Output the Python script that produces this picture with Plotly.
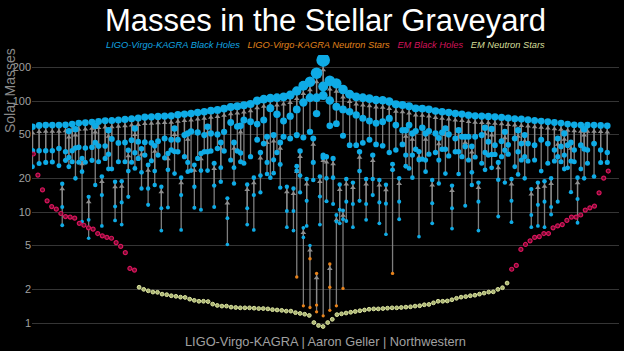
import numpy as np
import plotly.graph_objects as go

# ---------------- LIGO-Virgo-KAGRA mergers ----------------
# top row: slot (column index), remnant mass, primary, secondary
top_slot = list(range(0, 176, 2))
top_final = [58.6, 60.3, 60.7, 60.7, 60.7, 61.1, 62.0, 63.3, 63.7, 64.6, 65.5, 66.4, 66.9, 67.3, 68.3, 69.2, 70.2, 71.7,
             72.1, 72.6, 73.1, 73.6, 75.2, 76.2, 77.3, 78.9, 80.0, 81.8, 83.0, 85.4, 88.3, 89.6, 91.5, 94.0, 100.8, 104,
             106, 107, 109, 113, 123, 137, 149, 178, 234, 152, 144, 127, 115, 109, 107, 105, 102,
             101.4, 99.0, 93.3, 92.0, 89.6, 85.9, 85.4, 84.2, 81.2, 80.0, 78.9, 77.3, 76.2, 74.6, 73.6, 73.1, 72.6, 72.1,
             71.1, 70.2, 69.2, 68.7, 67.8, 66.9, 65.9, 65.0, 64.1, 63.3, 62.0, 61.1, 60.7, 60.7, 60.7, 60.3, 59.8]
top_m1 = [35.6, 35.6, 35.6, 35.6, 37.4, 34.9, 35.6, 38.3, 37.8, 38.3, 39.3, 39.3, 45.4, 41.9, 42.3, 44.3, 43.0, 42.5,
          42.0, 43.4, 46.0, 44.7, 44.7, 49.3, 53.2, 52.1, 49.3, 51.1, 50.0, 52.8, 64.0, 59.0, 67.6, 65.0, 62.0, 67.4,
          86.0, 76.0, 66.0, 73.0, 84.0, 97.0, 107, 107, 135, 101, 89.0, 84.0, 80.0, 75.0, 70.0, 66.0, 63.0,
          65.0, 69.7, 60.7, 54.6, 60.7, 53.6, 57.4, 53.6, 51.1, 52.0, 50.0, 46.0, 47.6, 47.6, 47.6, 49.3, 43.0, 40.0,
          43.4, 40.3, 46.0, 41.4, 41.4, 40.0, 44.7, 41.4, 36.2, 39.0, 40.0, 36.2, 40.0, 36.2, 41.4, 36.2, 34.4]
top_m2 = [25.6, 27.3, 28.0, 28.2, 26.1, 29.2, 28.4, 28.1, 28.1, 29.2, 28.4, 30.4, 24.4, 28.4, 28.4, 28.1, 30.4, 32.6,
          29.0, 32.6, 30.8, 36.2, 34.9, 31.5, 23.6, 30.4, 34.9, 35.4, 37.4, 35.4, 29.4, 35.4, 27.5, 31.5, 44.7, 41.4,
          20.4, 34.4, 47.6, 46.0, 49.3, 46.8, 52.8, 77.0, 112, 59.8, 62.5, 48.6, 40.0, 40.0, 42.0, 44.7, 40.6,
          39.5, 34.4, 36.2, 40.6, 24.7, 36.7, 30.0, 33.2, 34.4, 36.7, 32.0, 34.9, 31.5, 29.4, 31.3, 27.5, 32.6, 33.0,
          31.5, 33.2, 25.6, 29.4, 28.8, 29.4, 23.4, 27.5, 28.8, 28.4, 25.0, 28.4, 24.4, 27.5, 20.9, 27.9, 28.0]

# interleaved (lower) mergers
low_slot = [9, 11, 13, 15, 17, 19, 21, 23, 25, 27, 29, 31, 33, 35, 37, 39, 41, 43, 45, 47,
            49, 51, 53, 55, 57, 59, 61, 63, 65, 67, 69, 71, 73, 75, 77, 79, 81, 83, 85, 87,
            89, 91, 93, 95, 97, 99, 101, 103, 105, 107, 111, 113, 115, 117, 119, 121, 123, 125, 127, 129,
            131, 133, 135, 137, 139, 141, 143, 145, 147, 149, 151, 153, 155, 157, 159, 161, 163, 165, 167]
low_final = [18.0, 53.6, 55.8, 30.4, 13.7, 59.8, 20.9, 54.6, 18.7, 18.9,
             36.0, 56.6, 37.2, 26.5, 39.5, 16.9, 33.7, 56.6, 20.4, 51.0,
             26.5, 33.7, 58.6, 27.5, 42.3, 13.3, 42.3, 59.8, 17.7, 20.4,
             34.4, 47.6, 49.3, 42.3, 16.9, 16.3, 35.4, 19.8, 46.0, 20.9,
             31.5, 30.4, 17.7, 19.8, 18.4, 34.9, 19.8, 32.6, 19.4, 17.6,
             20.1, 54.6, 51.0, 35.0, 51.0, 19.4, 46.5, 56.6, 17.3, 54.6,
             47.6, 39.0, 18.4, 57.4, 56.0, 28.0, 52.8, 19.8, 54.6, 49.3,
             16.1, 18.4, 18.9, 20.1, 46.0, 51.0, 42.3, 20.4, 55.8]
low_m1 = [11.1, 31.0, 37.8, 23.1, 8.5, 42.1, 14.2, 33.2, 11.2, 12.2,
          23.4, 34.2, 22.8, 16.3, 23.4, 10.8, 24.0, 35.0, 14.2, 28.0,
          16.9, 23.6, 34.9, 17.3, 25.1, 8.8, 25.1, 34.0, 10.8, 14.2,
          21.3, 28.0, 29.6, 26.8, 10.2, 10.2, 21.3, 12.6, 28.0, 13.8,
          20.1, 20.4, 10.5, 12.4, 11.8, 23.4, 11.8, 19.8, 12.2, 11.9,
          12.4, 32.6, 32.6, 29.5, 29.4, 12.0, 29.4, 36.7, 10.8, 34.9,
          39.0, 22.8, 12.4, 34.4, 33.0, 19.5, 36.0, 12.6, 34.9, 31.5,
          9.4, 11.6, 12.4, 11.1, 31.5, 32.6, 28.8, 13.1, 37.0]
low_m2 = [7.6, 25.6, 20.1, 8.2, 5.8, 17.5, 7.5, 24.4, 8.4, 7.7,
          13.7, 24.7, 16.3, 11.6, 17.5, 6.8, 11.0, 22.2, 6.9, 23.1,
          10.9, 10.5, 23.6, 11.1, 18.7, 5.1, 18.1, 28.4, 7.7, 6.9,
          15.0, 22.0, 22.4, 16.6, 7.3, 6.8, 15.0, 7.5, 19.4, 7.7,
          12.5, 11.8, 7.9, 8.3, 7.3, 12.6, 8.5, 14.2, 7.9, 6.3,
          8.6, 25.8, 20.4, 6.0, 23.1, 7.9, 18.1, 22.2, 7.1, 22.0,
          11.4, 17.5, 6.8, 24.0, 25.0, 9.1, 18.4, 8.1, 21.8, 20.1,
          7.3, 7.5, 7.3, 9.5, 12.4, 24.4, 15.1, 8.0, 20.1]

# mergers involving neutron stars
ns_slot = [80, 82, 84, 86, 88, 90, 92, 94, 109]
ns_final = [25.8, 7.2, 5.0, 2.8, 32.5, 3.4, 9.4, 10.3, 27.0]
ns_m1 = [23.5, 5.9, 3.8, 1.45, 31.0, 2.1, 8.2, 8.6, 24.0]
ns_m2 = [2.6, 1.43, 1.38, 1.26, 1.16, 1.30, 1.43, 2.05, 2.8]

# ---------------- electromagnetic observations ----------------
em_bh_left = [33.3, 21.5, 15.8, 12.6, 11.2, 10.6, 9.7, 9.1, 9.0, 8.8, 7.9, 7.6, 7.2, 7.0, 6.4, 6.1,
              5.9, 5.8, 5.3, 4.9, 4.3, 3.1, 3.0]
em_ns = [2.10, 2.01, 1.95, 1.90, 1.89, 1.82, 1.80, 1.76, 1.74, 1.71, 1.70, 1.64, 1.60, 1.57, 1.57, 1.56,
         1.48, 1.44, 1.42, 1.42, 1.39, 1.38, 1.37, 1.37, 1.37, 1.36, 1.35, 1.35, 1.34, 1.32, 1.31, 1.30,
         1.28, 1.28, 1.24, 1.22, 1.20, 1.17,
         1.01, 0.95, 0.93, 1.01, 1.08,
         1.19, 1.21, 1.23, 1.25, 1.27, 1.29, 1.31, 1.33, 1.34, 1.34, 1.35, 1.36, 1.37, 1.37, 1.38, 1.39,
         1.40, 1.42,
         1.43, 1.46, 1.47, 1.52, 1.57, 1.57, 1.58, 1.62, 1.67, 1.71, 1.73, 1.76, 1.78, 1.82, 1.86, 1.90,
         1.91, 2.01, 2.08, 2.29]
em_bh_right = [3.05, 3.3, 4.6, 5.1, 5.5, 5.9, 6.0, 6.4, 6.4, 7.2, 7.5, 7.7, 8.4, 9.0, 9.0, 9.4, 10.4,
               10.9, 11.3, 14.9, 20.2, 23.4]

tick_vals = [1, 2, 5, 10, 20, 50, 100, 200]
tick_text = ["1", "2", "5", "10", "20", "50", "100", "200"]

# ---------------- styling ----------------
BH_BLUE = "#0eabe6"
NS_ORANGE = "#e8821a"
EM_RED = "#d8145c"
EM_RED_IN = "#6a0b2c"
EM_PALE = "#dde6a2"
EM_PALE_IN = "#a9b271"
FONT = "Liberation Sans, Arial, sans-serif"

W, H = 624, 351
ML, MR, MT, MB = 32, 5, 55, 16
PLOT_H = H - MT - MB
Y_LO, Y_HI = -0.108, 2.4145
PPD = PLOT_H / (Y_HI - Y_LO)
NS_LIMIT = 4.5


def dot_size(m):
    return 3.1 + 0.135 * np.power(np.asarray(m, dtype=float), 0.8)


slots = top_slot + low_slot + ns_slot
finals = top_final + low_final + ns_final
m1s = top_m1 + low_m1 + ns_m1
m2s = top_m2 + low_m2 + ns_m2

# arrow shafts
sx, sy = [], []
for s, f, a, b in zip(slots, finals, m1s, m2s):
    sx += [s, s, None, s, s, None]
    sy += [a, f, None, b, f, None]

finals_arr = np.array(finals)
head_y = finals_arr / np.power(10.0, (dot_size(finals_arr) / 2 + 3.0) / PPD)

# dots
dx = np.array(slots * 3)
dm = np.array(m1s + m2s + finals)
order = np.argsort(-dm)
dx, dm = dx[order], dm[order]
is_ns = dm < NS_LIMIT

fig = go.Figure()
fig.add_trace(go.Scatter(x=sx, y=sy, mode="lines", line=dict(color="rgba(140,140,140,0.9)", width=1.3),
                         hoverinfo="skip"))
fig.add_trace(go.Scatter(x=slots, y=head_y, mode="markers",
                         marker=dict(symbol="triangle-up", size=5, color="#8e8e8e", line=dict(width=0)),
                         hoverinfo="skip"))

em_vals = em_bh_left + em_ns + em_bh_right
em_x = list(range(len(em_vals)))
n_l = len(em_bh_left)
n_ns = len(em_ns)
fig.add_trace(go.Scatter(x=em_x[:n_l] + em_x[n_l + n_ns:], y=em_bh_left + em_bh_right, mode="markers",
                         xaxis="x2", yaxis="y",
                         marker=dict(size=4.0, color=EM_RED_IN, line=dict(color=EM_RED, width=1.2))))
fig.add_trace(go.Scatter(x=em_x[n_l:n_l + n_ns], y=em_ns, mode="markers", xaxis="x2", yaxis="y",
                         marker=dict(size=3.8, color=EM_PALE_IN, line=dict(color=EM_PALE, width=1.0))))

fig.add_trace(go.Scatter(x=dx[~is_ns], y=dm[~is_ns], mode="markers",
                         marker=dict(size=dot_size(dm[~is_ns]), color=BH_BLUE, opacity=1, line=dict(width=0))))
fig.add_trace(go.Scatter(x=dx[is_ns], y=dm[is_ns], mode="markers",
                         marker=dict(size=dot_size(dm[is_ns]), color=NS_ORANGE, opacity=1, line=dict(width=0))))

legend_html = ("<i><span style='color:%s'>LIGO-Virgo-KAGRA Black Holes</span>&nbsp;&nbsp;&nbsp;"
               "<span style='color:%s'>LIGO-Virgo-KAGRA Neutron Stars</span>&nbsp;&nbsp;&nbsp;"
               "<span style='color:%s'>EM Black Holes</span>&nbsp;&nbsp;&nbsp;"
               "<span style='color:%s'>EM Neutron Stars</span></i>") % ("#12a6e0", "#e0841c", "#d0145a", "#d6df9a")

fig.update_layout(
    width=W, height=H,
    margin=dict(l=ML, r=MR, t=MT, b=MB, pad=0),
    paper_bgcolor="black", plot_bgcolor="black",
    showlegend=False,
    font=dict(family=FONT),
    title=dict(text="Masses in the Stellar Graveyard", font=dict(size=31, color="white", family=FONT),
               x=0.5, xref="paper", xanchor="center", y=1 - 20.5 / H, yref="container", yanchor="middle"),
    xaxis=dict(range=[-0.1514, 177.55], visible=False, fixedrange=True),
    xaxis2=dict(range=[-0.2826, 127.33], overlaying="x", visible=False, fixedrange=True),
    yaxis=dict(type="log", range=[Y_LO, Y_HI], tickvals=tick_vals, ticktext=tick_text,
               gridcolor="#353535", gridwidth=1.4, zeroline=False, showline=False, ticks="",
               tickfont=dict(color="#a0a0a0", size=11, family=FONT), fixedrange=True),
    annotations=[
        dict(text=legend_html, x=0.5, xref="paper", y=(H - MB - 45) / PLOT_H, yref="paper",
             showarrow=False, xanchor="center", yanchor="middle", font=dict(size=9.3, family=FONT)),
        dict(text="Solar Masses", textangle=-90, x=-22 / (W - ML - MR), xref="paper",
             y=(H - MB - 91) / PLOT_H, yref="paper", showarrow=False, xanchor="center", yanchor="middle",
             font=dict(size=14, color="#8a8a8a", family=FONT)),
        dict(text="LIGO-Virgo-KAGRA | Aaron Geller | Northwestern", x=0.5, xref="paper",
             y=(H - MB - 341) / PLOT_H, yref="paper", showarrow=False, xanchor="center", yanchor="middle",
             font=dict(size=12.8, color="#a0a0a0", family=FONT)),
    ],
)

fig.write_html("out.html")
